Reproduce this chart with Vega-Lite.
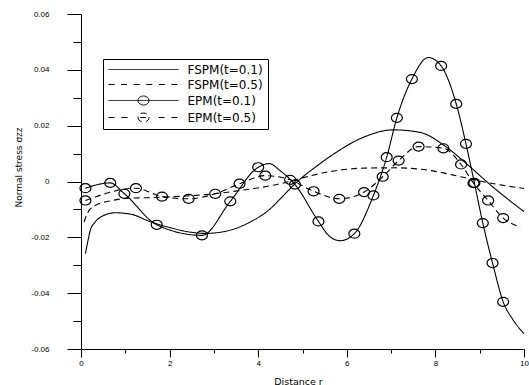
{
  "$schema": "https://vega.github.io/schema/vega-lite/v6.json",
  "width": 443,
  "height": 335,
  "autosize": "none",
  "padding": {"left": 81, "top": 14, "right": 5, "bottom": 36},
  "background": "white",
  "config": {
    "view": {"stroke": null},
    "axis": {
      "grid": false,
      "domainColor": "black",
      "domainWidth": 1,
      "tickColor": "black",
      "tickWidth": 1,
      "labelColor": "black",
      "titleColor": "black",
      "labelFont": "Liberation Sans",
      "labelFontSize": 8,
      "titleFont": "DejaVu Sans",
      "titleFontWeight": "normal"
    }
  },
  "datasets": {
    "curves": [
      {"s": "FSPM(t=0.1)", "r": 0.1, "v": -0.0258},
      {"s": "FSPM(t=0.1)", "r": 0.16, "v": -0.021},
      {"s": "FSPM(t=0.1)", "r": 0.21, "v": -0.0175},
      {"s": "FSPM(t=0.1)", "r": 0.32, "v": -0.0145},
      {"s": "FSPM(t=0.1)", "r": 0.47, "v": -0.0125},
      {"s": "FSPM(t=0.1)", "r": 0.77, "v": -0.0112},
      {"s": "FSPM(t=0.1)", "r": 1.15, "v": -0.0118},
      {"s": "FSPM(t=0.1)", "r": 1.5, "v": -0.014},
      {"s": "FSPM(t=0.1)", "r": 2.0, "v": -0.0165},
      {"s": "FSPM(t=0.1)", "r": 2.5, "v": -0.0182},
      {"s": "FSPM(t=0.1)", "r": 2.8, "v": -0.0186},
      {"s": "FSPM(t=0.1)", "r": 3.3, "v": -0.0177},
      {"s": "FSPM(t=0.1)", "r": 3.82, "v": -0.0145},
      {"s": "FSPM(t=0.1)", "r": 4.27, "v": -0.0098},
      {"s": "FSPM(t=0.1)", "r": 4.5, "v": -0.0062},
      {"s": "FSPM(t=0.1)", "r": 4.85, "v": -0.0005},
      {"s": "FSPM(t=0.1)", "r": 5.32, "v": 0.0055},
      {"s": "FSPM(t=0.1)", "r": 5.7, "v": 0.0098},
      {"s": "FSPM(t=0.1)", "r": 6.37, "v": 0.0158},
      {"s": "FSPM(t=0.1)", "r": 7.05, "v": 0.0185},
      {"s": "FSPM(t=0.1)", "r": 7.65, "v": 0.0176},
      {"s": "FSPM(t=0.1)", "r": 8.25, "v": 0.0123},
      {"s": "FSPM(t=0.1)", "r": 8.7, "v": 0.0064},
      {"s": "FSPM(t=0.1)", "r": 9.3, "v": -0.002},
      {"s": "FSPM(t=0.1)", "r": 10, "v": -0.0108},
      {"s": "FSPM(t=0.5)", "r": 0.07, "v": -0.0145},
      {"s": "FSPM(t=0.5)", "r": 0.15, "v": -0.0112},
      {"s": "FSPM(t=0.5)", "r": 0.32, "v": -0.0086},
      {"s": "FSPM(t=0.5)", "r": 0.7, "v": -0.0068},
      {"s": "FSPM(t=0.5)", "r": 1.07, "v": -0.006},
      {"s": "FSPM(t=0.5)", "r": 1.5, "v": -0.0058},
      {"s": "FSPM(t=0.5)", "r": 2.0, "v": -0.0055},
      {"s": "FSPM(t=0.5)", "r": 2.8, "v": -0.0047},
      {"s": "FSPM(t=0.5)", "r": 3.6, "v": -0.0032},
      {"s": "FSPM(t=0.5)", "r": 4.5, "v": -0.0008},
      {"s": "FSPM(t=0.5)", "r": 5.0, "v": 0.0013},
      {"s": "FSPM(t=0.5)", "r": 5.6, "v": 0.0035},
      {"s": "FSPM(t=0.5)", "r": 6.4, "v": 0.0048},
      {"s": "FSPM(t=0.5)", "r": 7.1, "v": 0.0049},
      {"s": "FSPM(t=0.5)", "r": 7.9, "v": 0.0039},
      {"s": "FSPM(t=0.5)", "r": 8.6, "v": 0.0016},
      {"s": "FSPM(t=0.5)", "r": 9.0, "v": 0.0002},
      {"s": "FSPM(t=0.5)", "r": 9.5, "v": -0.0013},
      {"s": "FSPM(t=0.5)", "r": 10, "v": -0.0025},
      {"s": "EPM(t=0.1)", "r": 0.1, "v": -0.0024},
      {"s": "EPM(t=0.1)", "r": 0.66, "v": -0.0005},
      {"s": "EPM(t=0.1)", "r": 0.98, "v": -0.0044},
      {"s": "EPM(t=0.1)", "r": 1.71, "v": -0.0155},
      {"s": "EPM(t=0.1)", "r": 2.73, "v": -0.0193},
      {"s": "EPM(t=0.1)", "r": 3.37, "v": -0.0071},
      {"s": "EPM(t=0.1)", "r": 4.0, "v": 0.0051},
      {"s": "EPM(t=0.1)", "r": 4.25, "v": 0.0064},
      {"s": "EPM(t=0.1)", "r": 4.5, "v": 0.0038},
      {"s": "EPM(t=0.1)", "r": 4.83, "v": -0.0011},
      {"s": "EPM(t=0.1)", "r": 5.36, "v": -0.0143},
      {"s": "EPM(t=0.1)", "r": 5.6, "v": -0.0195},
      {"s": "EPM(t=0.1)", "r": 5.85, "v": -0.0212},
      {"s": "EPM(t=0.1)", "r": 6.17, "v": -0.0187},
      {"s": "EPM(t=0.1)", "r": 6.6, "v": -0.005},
      {"s": "EPM(t=0.1)", "r": 6.9, "v": 0.0087},
      {"s": "EPM(t=0.1)", "r": 7.13, "v": 0.0228},
      {"s": "EPM(t=0.1)", "r": 7.47, "v": 0.0367},
      {"s": "EPM(t=0.1)", "r": 7.84, "v": 0.0444},
      {"s": "EPM(t=0.1)", "r": 8.13, "v": 0.0414},
      {"s": "EPM(t=0.1)", "r": 8.47, "v": 0.0278},
      {"s": "EPM(t=0.1)", "r": 8.69, "v": 0.0135},
      {"s": "EPM(t=0.1)", "r": 8.88, "v": -0.0005},
      {"s": "EPM(t=0.1)", "r": 9.07, "v": -0.0149},
      {"s": "EPM(t=0.1)", "r": 9.29, "v": -0.0292},
      {"s": "EPM(t=0.1)", "r": 9.53, "v": -0.0431},
      {"s": "EPM(t=0.1)", "r": 9.75, "v": -0.0495},
      {"s": "EPM(t=0.1)", "r": 10, "v": -0.0545},
      {"s": "EPM(t=0.5)", "r": 0.1, "v": -0.0068},
      {"s": "EPM(t=0.5)", "r": 1.24, "v": -0.0024},
      {"s": "EPM(t=0.5)", "r": 1.83, "v": -0.0054},
      {"s": "EPM(t=0.5)", "r": 2.43, "v": -0.0062},
      {"s": "EPM(t=0.5)", "r": 3.03, "v": -0.0044},
      {"s": "EPM(t=0.5)", "r": 3.58, "v": -0.0008},
      {"s": "EPM(t=0.5)", "r": 4.16, "v": 0.0021},
      {"s": "EPM(t=0.5)", "r": 4.72, "v": 0.0006},
      {"s": "EPM(t=0.5)", "r": 5.25, "v": -0.0035},
      {"s": "EPM(t=0.5)", "r": 5.83, "v": -0.0062},
      {"s": "EPM(t=0.5)", "r": 6.39, "v": -0.0038},
      {"s": "EPM(t=0.5)", "r": 6.81, "v": 0.0017},
      {"s": "EPM(t=0.5)", "r": 7.17, "v": 0.0075},
      {"s": "EPM(t=0.5)", "r": 7.62, "v": 0.0125},
      {"s": "EPM(t=0.5)", "r": 8.18, "v": 0.0119},
      {"s": "EPM(t=0.5)", "r": 8.58, "v": 0.0061},
      {"s": "EPM(t=0.5)", "r": 8.86, "v": -0.0006},
      {"s": "EPM(t=0.5)", "r": 9.19, "v": -0.0068},
      {"s": "EPM(t=0.5)", "r": 9.53, "v": -0.0131},
      {"s": "EPM(t=0.5)", "r": 9.92, "v": -0.0163}
    ],
    "markers": [
      {"s": "EPM(t=0.1)", "r": 0.1, "v": -0.0024},
      {"s": "EPM(t=0.1)", "r": 0.66, "v": -0.0005},
      {"s": "EPM(t=0.1)", "r": 0.98, "v": -0.0044},
      {"s": "EPM(t=0.1)", "r": 1.71, "v": -0.0155},
      {"s": "EPM(t=0.1)", "r": 2.73, "v": -0.0193},
      {"s": "EPM(t=0.1)", "r": 3.37, "v": -0.0071},
      {"s": "EPM(t=0.1)", "r": 4.0, "v": 0.0051},
      {"s": "EPM(t=0.1)", "r": 4.83, "v": -0.0011},
      {"s": "EPM(t=0.1)", "r": 5.36, "v": -0.0143},
      {"s": "EPM(t=0.1)", "r": 6.17, "v": -0.0187},
      {"s": "EPM(t=0.1)", "r": 6.6, "v": -0.005},
      {"s": "EPM(t=0.1)", "r": 6.9, "v": 0.0087},
      {"s": "EPM(t=0.1)", "r": 7.13, "v": 0.0228},
      {"s": "EPM(t=0.1)", "r": 7.47, "v": 0.0367},
      {"s": "EPM(t=0.1)", "r": 8.13, "v": 0.0414},
      {"s": "EPM(t=0.1)", "r": 8.47, "v": 0.0278},
      {"s": "EPM(t=0.1)", "r": 8.69, "v": 0.0135},
      {"s": "EPM(t=0.1)", "r": 8.88, "v": -0.0005},
      {"s": "EPM(t=0.1)", "r": 9.07, "v": -0.0149},
      {"s": "EPM(t=0.1)", "r": 9.29, "v": -0.0292},
      {"s": "EPM(t=0.1)", "r": 9.53, "v": -0.0431},
      {"s": "EPM(t=0.5)", "r": 0.1, "v": -0.0068},
      {"s": "EPM(t=0.5)", "r": 1.24, "v": -0.0024},
      {"s": "EPM(t=0.5)", "r": 1.83, "v": -0.0054},
      {"s": "EPM(t=0.5)", "r": 2.43, "v": -0.0062},
      {"s": "EPM(t=0.5)", "r": 3.03, "v": -0.0044},
      {"s": "EPM(t=0.5)", "r": 3.58, "v": -0.0008},
      {"s": "EPM(t=0.5)", "r": 4.16, "v": 0.0021},
      {"s": "EPM(t=0.5)", "r": 4.72, "v": 0.0006},
      {"s": "EPM(t=0.5)", "r": 5.25, "v": -0.0035},
      {"s": "EPM(t=0.5)", "r": 5.83, "v": -0.0062},
      {"s": "EPM(t=0.5)", "r": 6.39, "v": -0.0038},
      {"s": "EPM(t=0.5)", "r": 6.81, "v": 0.0017},
      {"s": "EPM(t=0.5)", "r": 7.17, "v": 0.0075},
      {"s": "EPM(t=0.5)", "r": 7.62, "v": 0.0125},
      {"s": "EPM(t=0.5)", "r": 8.18, "v": 0.0119},
      {"s": "EPM(t=0.5)", "r": 8.58, "v": 0.0061},
      {"s": "EPM(t=0.5)", "r": 8.86, "v": -0.0006},
      {"s": "EPM(t=0.5)", "r": 9.19, "v": -0.0068},
      {"s": "EPM(t=0.5)", "r": 9.53, "v": -0.0131}
    ]
  },
  "encoding": {
    "x": {
      "field": "r",
      "type": "quantitative",
      "scale": {"domain": [0, 10], "nice": false, "zero": false},
      "axis": {
        "values": [0, 1, 2, 3, 4, 5, 6, 7, 8, 9, 10],
        "labelExpr": "datum.value % 2 == 0 ? datum.label : ''",
        "tickSize": {"condition": {"test": "datum.value % 2 == 0", "value": 8}, "value": 4},
        "labelPadding": 2,
        "labelFlush": false,
        "labelOverlap": false,
        "title": "Distance r",
        "titleFontSize": 9.5,
        "titleX": 217,
        "titleY": 35,
        "titleAlign": "center",
        "titleBaseline": "alphabetic"
      }
    },
    "y": {
      "field": "v",
      "type": "quantitative",
      "scale": {"domain": [-0.06, 0.06], "nice": false, "zero": false},
      "axis": {
        "values": [-0.06, -0.05, -0.04, -0.03, -0.02, -0.01, 0, 0.01, 0.02, 0.03, 0.04, 0.05, 0.06],
        "labelExpr": "round(datum.value*100) % 2 == 0 ? (round(datum.value*100) == 0 ? '0' : (datum.value < 0 ? '-' : '') + '0.0' + abs(round(datum.value*100))) : ''",
        "tickSize": {"condition": {"test": "round(datum.value*100) % 2 == 0", "value": 14}, "value": 8},
        "labelPadding": 18,
        "labelFlush": false,
        "labelOverlap": false,
        "title": "Normal stress σzz",
        "titleFontSize": 9,
        "titleAngle": -90,
        "titleX": -63,
        "titleY": 153,
        "titleAlign": "center",
        "titleBaseline": "middle"
      }
    }
  },
  "layer": [
    {
      "data": {"name": "curves"},
      "mark": {"type": "line", "interpolate": "monotone", "strokeWidth": 1.1},
      "encoding": {
        "color": {
          "field": "s",
          "type": "nominal",
          "scale": {"domain": ["FSPM(t=0.1)", "FSPM(t=0.5)", "EPM(t=0.1)", "EPM(t=0.5)"], "range": ["black", "black", "black", "black"]},
          "legend": {
            "orient": "none",
            "legendX": 22,
            "legendY": 45,
            "title": null,
            "symbolSize": 100,
            "symbolStrokeWidth": 1,
            "labelOffset": 68,
            "labelFont": "DejaVu Sans",
            "labelFontSize": 12,
            "labelColor": "black",
            "rowPadding": 3,
            "padding": 4.5,
            "strokeColor": "black",
            "fillColor": "white",
            "cornerRadius": 0,
            "encode": {
              "symbols": {
                "update": {
                  "shape": {"signal": "datum.value === 'FSPM(t=0.1)' ? 'M-1,0H13' : datum.value === 'FSPM(t=0.5)' ? 'M-1,0H0.4M1.52,0H2.92M4.04,0H5.44M6.56,0H7.96M9.08,0H10.48M11.6,0H13' : datum.value === 'EPM(t=0.1)' ? 'M-1,0H13M4.9,0A1.1,0.9 0 1,0 7.1,0A1.1,0.9 0 1,0 4.9,0' : 'M-1,0H0.4M1.6,0H3.0M5.3,0H6.7M9.0,0H10.4M11.6,0H13M4.9,0A1.1,0.9 0 1,0 7.1,0A1.1,0.9 0 1,0 4.9,0'"},
                  "stroke": {"value": "black"},
                  "fill": {"value": "transparent"},
                  "strokeWidth": {"value": 1},
                  "strokeDash": {"value": []}
                }
              }
            }
          }
        },
        "strokeDash": {
          "field": "s",
          "type": "nominal",
          "scale": {"domain": ["FSPM(t=0.1)", "FSPM(t=0.5)", "EPM(t=0.1)", "EPM(t=0.5)"], "range": [[1, 0], [6, 4], [1, 0], [6, 4]]},
          "legend": null
        }
      }
    },
    {
      "data": {"name": "markers"},
      "mark": {"type": "point", "shape": "M-1,0A1,0.82 0 1,0 1,0A1,0.82 0 1,0 -1,0", "filled": false, "size": 121, "strokeWidth": 1.2, "color": "black", "opacity": 1}
    }
  ]
}
